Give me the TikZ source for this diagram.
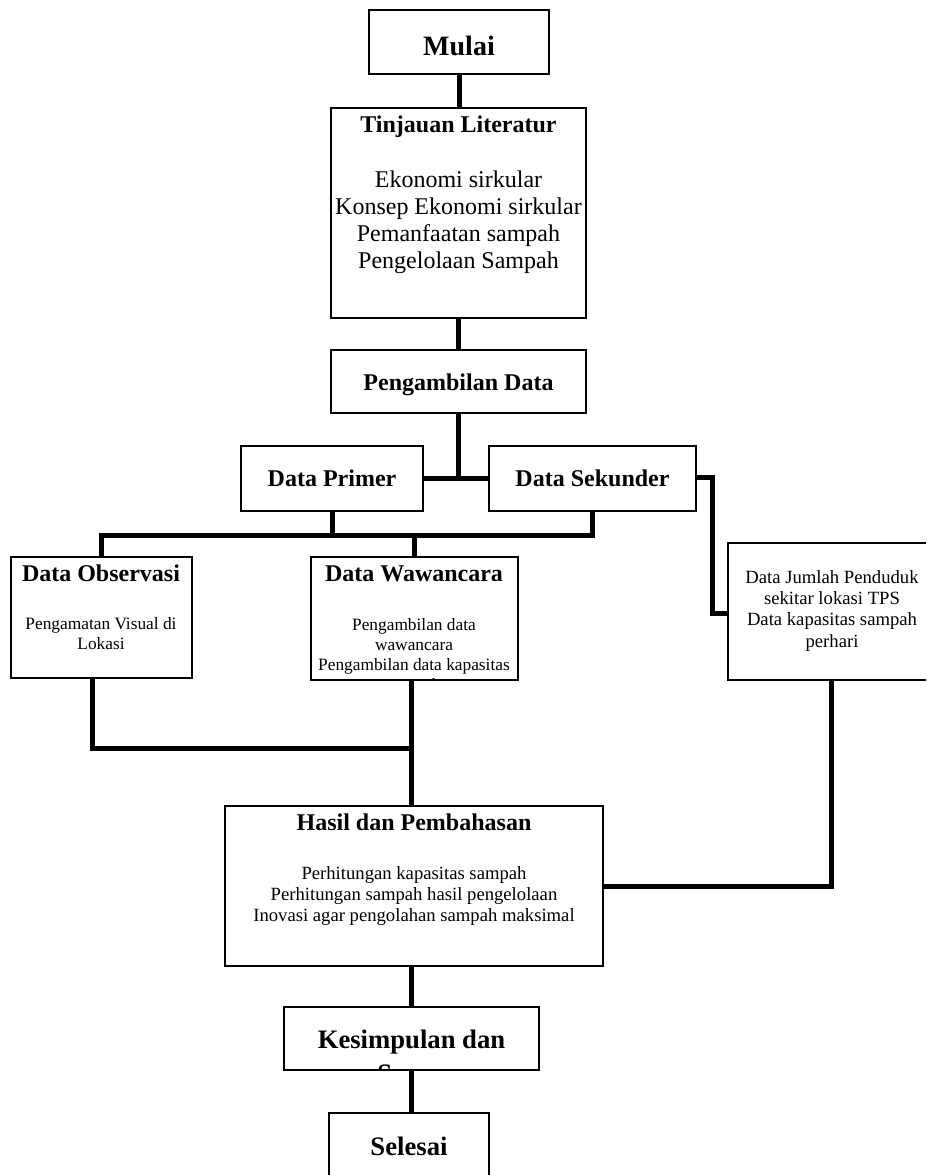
\documentclass[tikz,border=0pt]{standalone}
\usepackage{fontspec}
\setmainfont{Liberation Serif}
\usetikzlibrary{fit}
\begin{document}
\begin{tikzpicture}[x=0.75pt,y=-0.75pt,
  box/.style={draw, line width=1pt, inner sep=0pt, outer sep=0pt},
  conn/.style={line width=3.75pt},
  ttl/.style={font=\bfseries\fontsize{18}{21}\selectfont, anchor=base, inner sep=0pt},
  body/.style={align=center, inner sep=0pt}]
\clip (0,0) rectangle (926,1175);
\fill[white] (0,0) rectangle (926,1175);

% boxes
\node[box, fit={(369,10)(549,74)}] (mulai) {};
\node[box, fit={(331,108)(586,318)}] (tinj) {};
\node[box, fit={(331,350)(586,413)}] (ambil) {};
\node[box, fit={(241,446)(423,511)}] (prim) {};
\node[box, fit={(489,446)(696,511)}] (sek) {};
\node[box, fit={(11,557)(192,678)}] (obs) {};
\node[box, fit={(311,557)(518,680)}] (waw) {};
\node[box, fit={(728,543)(940,680)}] (jml) {};
\node[box, fit={(225,806)(603,966)}] (hasil) {};
\node[box, fit={(284,1007)(539,1070)}] (kes) {};
\node[box, fit={(329,1113)(489,1190)}] (sel) {};

% connectors
\coordinate (j1) at (458,478);
\coordinate (s1) at (712,477);
\coordinate (s2) at (712,613);
\coordinate (bus) at (0,535);
\coordinate (o1) at (92,748);
\coordinate (o2) at (411,748);
\coordinate (h1) at (831,886);

\draw[conn] (mulai.south) -- (mulai.south |- tinj.north);
\draw[conn] (tinj.south) -- (ambil.north);
\draw[conn] (ambil.south) -- (ambil.south |- j1);
\draw[conn] (prim.east |- j1) -- (sek.west |- j1);
\draw[conn] (sek.east |- s1) -- (s1) -- (s2) -- (jml.west |- s2);
\draw[conn] (obs.north) -- (obs.north |- bus) -- (sek.south |- bus) -- (sek.south);
\draw[conn] (prim.south) -- (prim.south |- bus);
\draw[conn] (waw.north) -- (waw.north |- bus);
\draw[conn] (obs.south -| o1) -- (o1) -- (o2);
\draw[conn] (waw.south -| o2) -- (hasil.north -| o2);
\draw[conn] (jml.south -| h1) -- (h1) -- (hasil.east |- h1);
\draw[conn] (hasil.south -| kes.north) -- (kes.north);
\draw[conn] (kes.south -| o2) -- (sel.north -| o2);

% texts
\node[ttl, font=\bfseries\fontsize{21}{25}\selectfont] (mulai-t) at (459,55) {Mulai};
\node[ttl] (tinj-t) at (458.5,132) {Tinjauan Literatur};
\node[body, font=\fontsize{18}{20.25}\selectfont] (tinj-b) at (458.5,222) {Ekonomi sirkular\\Konsep Ekonomi sirkular\\Pemanfaatan sampah\\Pengelolaan Sampah};
\node[ttl] (ambil-t) at (458.5,390) {Pengambilan Data};
\node[ttl] (prim-t) at (332,486) {Data Primer};
\node[ttl] (sek-t) at (592.5,486) {Data Sekunder};
\node[ttl] (obs-t) at (101,581) {Data Observasi};
\node[ttl] (waw-t) at (414,581) {Data Wawancara};
\node[body, font=\fontsize{13}{15}\selectfont] (obs-b) at (101,634) {Pengamatan Visual di\\Lokasi};
\begin{scope}
\clip (waw.north west) rectangle (waw.south east);
\node[body, font=\fontsize{13}{15}\selectfont] (waw-b) at (414,656) {Pengambilan data\\wawancara\\Pengambilan data kapasitas\\sampah};
\end{scope}
\node[body, font=\fontsize{14}{16}\selectfont] (jml-b) at (832,610.6) {Data Jumlah Penduduk\\sekitar lokasi TPS\\Data kapasitas sampah\\perhari};
\node[ttl] (hasil-t) at (414,830) {Hasil dan Pembahasan};
\node[body, font=\fontsize{14}{16.1}\selectfont] (hasil-b) at (414,896) {Perhitungan kapasitas sampah\\Perhitungan sampah hasil pengelolaan\\Inovasi agar pengolahan sampah maksimal};
\begin{scope}
\clip (kes.north west) rectangle (kes.south east);
\node[body, font=\bfseries\fontsize{20}{25.5}\selectfont] (kes-t) at (411.5,1056) {Kesimpulan dan\\Saran};
\end{scope}
\node[ttl, font=\bfseries\fontsize{20}{24}\selectfont] (sel-t) at (409,1155) {Selesai};
\end{tikzpicture}
\end{document}
